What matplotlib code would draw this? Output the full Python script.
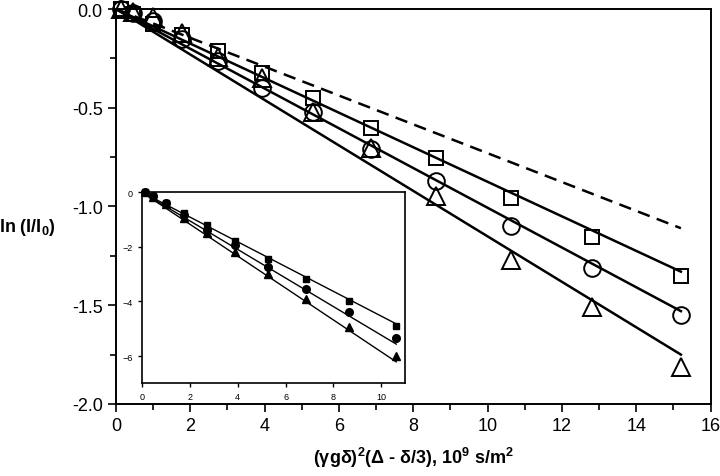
import numpy as np
import matplotlib.pyplot as plt
from matplotlib.ticker import MultipleLocator

plt.rcParams['font.family'] = ['Liberation Sans Narrow', 'Liberation Sans', 'DejaVu Sans']
plt.rcParams['mathtext.default'] = 'regular'

# main plot data
x_main = [0.13, 0.46, 1.0, 1.78, 2.74, 3.92, 5.29, 6.86, 8.62, 10.62, 12.81, 15.2]
y_square = [0, -0.025, -0.075, -0.13, -0.215, -0.325, -0.45, -0.60, -0.755, -0.955, -1.157, -1.35]
y_circle = [0, -0.02, -0.06, -0.15, -0.265, -0.40, -0.52, -0.71, -0.87, -1.10, -1.31, -1.55]
y_triangle = [0, -0.015, -0.04, -0.12, -0.245, -0.35, -0.52, -0.705, -0.945, -1.27, -1.51, -1.815]

# fitted lines (end points)
fit_x = [0.0, 15.2]
fit_square = [0.0, -1.33]
fit_circle = [0.0, -1.53]
fit_triangle = [0.0, -1.75]
dash_y = [0.0, -1.11]

# inset data
x_ins = [0.15, 0.46, 1.0, 1.78, 2.74, 3.9, 5.28, 6.85, 8.63, 10.62]
yi_square = [0, -0.15, -0.38, -0.75, -1.2, -1.79, -2.45, -3.18, -4.0, -4.88]
yi_circle = [0, -0.15, -0.40, -0.85, -1.38, -1.93, -2.73, -3.53, -4.38, -5.33]
yi_triangle = [0, -0.16, -0.42, -0.95, -1.5, -2.2, -3.0, -3.92, -4.93, -5.98]
fiti_x = [0.0, 10.62]
fiti_square = [0.0, -4.82]
fiti_circle = [0.0, -5.56]
fiti_triangle = [0.0, -6.21]

fig = plt.figure(figsize=(7.2, 4.77), dpi=100)
ax = fig.add_axes([0.161, 0.151, 0.826, 0.828])

ax.plot(fit_x, dash_y, color='black', lw=1.8, ls=(0, (5, 3)))
ax.plot(fit_x, fit_square, color='black', lw=1.8)
ax.plot(fit_x, fit_circle, color='black', lw=1.8)
ax.plot(fit_x, fit_triangle, color='black', lw=1.8)
ax.plot(x_main, y_square, 's', ms=10, mfc='none', mec='black', mew=1.4, clip_on=False)
ax.plot(x_main, y_circle, 'o', ms=12, mfc='none', mec='black', mew=1.4, clip_on=False)
ax.plot(x_main, y_triangle, '^', ms=12.5, mfc='none', mec='black', mew=1.4, clip_on=False)

ax.set_xlim(0, 16)
ax.set_ylim(-2.0, 0.0)
ax.xaxis.set_major_locator(MultipleLocator(2))
ax.xaxis.set_minor_locator(MultipleLocator(1))
ax.yaxis.set_major_locator(MultipleLocator(0.5))
ax.yaxis.set_minor_locator(MultipleLocator(0.25))
ax.yaxis.set_major_formatter(plt.FormatStrFormatter('%.1f'))
ax.tick_params(which='major', direction='out', length=6, width=1.2, labelsize=13)
ax.tick_params(which='minor', direction='out', length=4, width=1.2)
for s in ax.spines.values():
    s.set_linewidth(1.4)

ax.set_xlabel(r'($\gamma$g$\delta$)$^2$($\Delta$ - $\delta$/3), 10$^9$ s/m$^2$',
              fontsize=13, fontweight='bold', labelpad=8)
fig.text(0.038, 0.524, r'ln (I/I$_0$)', fontsize=13, fontweight='bold', ha='center', va='center')

# inset
axi = fig.add_axes([0.197, 0.194, 0.366, 0.401])
axi.plot(fiti_x, fiti_square, color='black', lw=1.0)
axi.plot(fiti_x, fiti_circle, color='black', lw=1.0)
axi.plot(fiti_x, fiti_triangle, color='black', lw=1.0)
axi.plot(x_ins, yi_square, 's', ms=5, color='black', clip_on=False)
axi.plot(x_ins, yi_circle, 'o', ms=5.5, color='black', clip_on=False)
axi.plot(x_ins, yi_triangle, '^', ms=5.5, color='black', clip_on=False)
axi.set_xlim(0, 11)
axi.set_ylim(-7, 0)
axi.xaxis.set_major_locator(MultipleLocator(2))
axi.yaxis.set_major_locator(MultipleLocator(2))
axi.tick_params(direction='out', length=3, width=1, labelsize=6.5)
for s in axi.spines.values():
    s.set_linewidth(1.2)

fig.savefig('out.png', dpi=100)
